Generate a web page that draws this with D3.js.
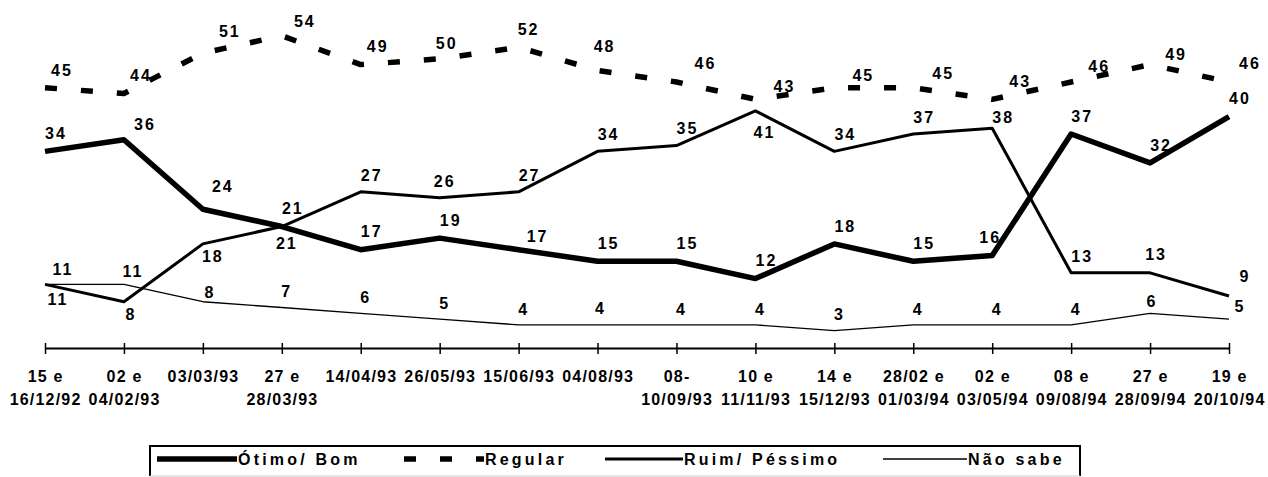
<!DOCTYPE html>
<html lang="pt">
<head>
<meta charset="UTF-8">
<title>Avaliação</title>
<script src="https://d3js.org/d3.v7.min.js"></script>
<style>
  body { margin: 0; background: #fff; }
  svg { display: block; }
  text { font-family: "Liberation Sans", Arial, sans-serif; font-weight: bold; fill: #000; }
  .val { font-size: 16px; letter-spacing: 2px; }
  .tick-lbl { font-size: 16px; letter-spacing: 1.2px; }
  .leg-lbl { font-size: 16px; letter-spacing: 3.2px; }
</style>
</head>
<body>
<svg id="chart" width="1268" height="477"></svg>
<script>
// categories (survey dates), "\n" splits the two label lines
const periods = [
  "15 e\n16/12/92", "02 e\n04/02/93", "03/03/93", "27 e\n28/03/93",
  "14/04/93", "26/05/93", "15/06/93", "04/08/93", "08-\n10/09/93",
  "10 e\n11/11/93", "14 e\n15/12/93", "28/02 e\n01/03/94", "02 e\n03/05/94",
  "08 e\n09/08/94", "27 e\n28/09/94", "19 e\n20/10/94"
];

const otimoBom    = [34, 36, 24, 21, 17, 19, 17, 15, 15, 12, 18, 15, 16, 37, 32, 40];
const regular     = [45, 44, 51, 54, 49, 50, 52, 48, 46, 43, 45, 45, 43, 46, 49, 46];
const ruimPessimo = [11, 8, 18, 21, 27, 26, 27, 34, 35, 41, 34, 37, 38, 13, 13, 9];
const naoSabe     = [11, 11, 8, 7, 6, 5, 4, 4, 4, 4, 3, 4, 4, 4, 6, 5];

const seriesNames = ["Ótimo/ Bom", "Regular", "Ruim/ Péssimo", "Não sabe"];

const svg = d3.select("#chart");

const x = d3.scalePoint().domain(d3.range(periods.length)).range([45, 1229]);
const y = d3.scaleLinear().domain([0, 60]).range([348, 1]);

// series styling + where the value labels sit
const series = [
  { name: seriesNames[0], values: otimoBom, width: 5.5, dash: null, dx: 10, dy: -18,
    nudge: { 12: [-3, -18], 1: [20, -16], 2: [19, -23], 6: [18, -13] } },
  { name: seriesNames[1], values: regular, width: 5.5, dash: "12 24", dx: 16, dy: -18,
    nudge: { 2: [26, -22], 3: [22, -14], 5: [6, -16], 6: [9, -18], 7: [6, -24], 8: [28, -19],
             9: [28, -13], 10: [28, -13], 11: [29, -15], 12: [27, -18], 13: [27, -16], 14: [25, -10], 15: [20, -19] } },
  { name: seriesNames[2], values: ruimPessimo, width: 3, dash: null, dx: 10, dy: -17,
    nudge: { 0: [12, 15], 1: [6, 13], 2: [9, 12], 3: [4, 17], 5: [4, -16], 9: [8, 21], 12: [10, -11], 14: [5, -19], 15: [15, -20] } },
  { name: seriesNames[3], values: naoSabe, width: 1.3, dash: null, dx: 4, dy: -16,
    nudge: { 0: [17, -15], 1: [8, -13], 2: [6, -9], 7: [2, -17], 14: [1, -12], 15: [10, -13] } }
];

// axis
const axis = d3.axisBottom(x).tickSize(0).tickFormat(() => "");
const gx = svg.append("g").attr("transform", `translate(0,${y(0)})`).call(axis);
gx.select(".domain").attr("stroke", "#000").attr("stroke-width", 2);
gx.selectAll(".tick").append("line")
  .attr("y1", -5).attr("y2", 6).attr("stroke", "#000").attr("stroke-width", 1.5);
gx.selectAll(".tick text").remove();

svg.append("g").selectAll("text")
  .data(periods)
  .join("text")
  .attr("class", "tick-lbl")
  .attr("text-anchor", "middle")
  .attr("transform", (d, i) => `translate(${x(i) + 0.6},0)`)
  .each(function(d) {
    d.split("\n").forEach((part, k) => {
      d3.select(this).append("tspan")
        .attr("x", 0)
        .attr("y", 382 + k * 23)
        .text(part);
    });
  });

// lines
const line = d3.line().x((d, i) => x(i)).y(d => y(d));

series.forEach(s => {
  svg.append("path")
    .datum(s.values)
    .attr("fill", "none")
    .attr("stroke", "#000")
    .attr("stroke-width", s.width)
    .attr("stroke-linejoin", "round")
    .attr("stroke-dasharray", s.dash)
    .attr("d", line);
});

// value labels
series.forEach(s => {
  svg.append("g").selectAll("text")
    .data(s.values)
    .join("text")
    .attr("class", "val")
    .attr("text-anchor", "middle")
    .attr("x", (d, i) => x(i) + (s.nudge[i] ? s.nudge[i][0] : s.dx) + 1)
    .attr("y", (d, i) => y(d) + (s.nudge[i] ? s.nudge[i][1] : s.dy))
    .attr("dy", "0.36em")
    .text(d => d);
});

// legend
const leg = svg.append("g");
const legTop = 446, legBottom = 476, legLeft = 150, legRight = 1080;
leg.append("path")
  .attr("d", `M${legLeft},${legBottom}V${legTop}H${legRight}V${legBottom}`)
  .attr("fill", "none").attr("stroke", "#000").attr("stroke-width", 2);
leg.append("line")
  .attr("x1", legLeft).attr("x2", legRight).attr("y1", legBottom).attr("y2", legBottom)
  .attr("stroke", "#ccc").attr("stroke-width", 1);

const legItems = [
  { x1: 157, x2: 237 },
  { x1: 404, x2: 484 },
  { x1: 605, x2: 683 },
  { x1: 883, x2: 967 }
];
const legY = 459;
series.forEach((s, i) => {
  const it = legItems[i];
  leg.append("line")
    .attr("x1", it.x1).attr("x2", it.x2).attr("y1", legY).attr("y2", legY)
    .attr("stroke", "#000").attr("stroke-width", s.width)
    .attr("stroke-dasharray", s.dash);
  leg.append("text")
    .attr("class", "leg-lbl")
    .attr("x", it.x2 + 1)
    .attr("y", legY)
    .attr("dy", "0.36em")
    .text(s.name);
});
</script>
</body>
</html>
